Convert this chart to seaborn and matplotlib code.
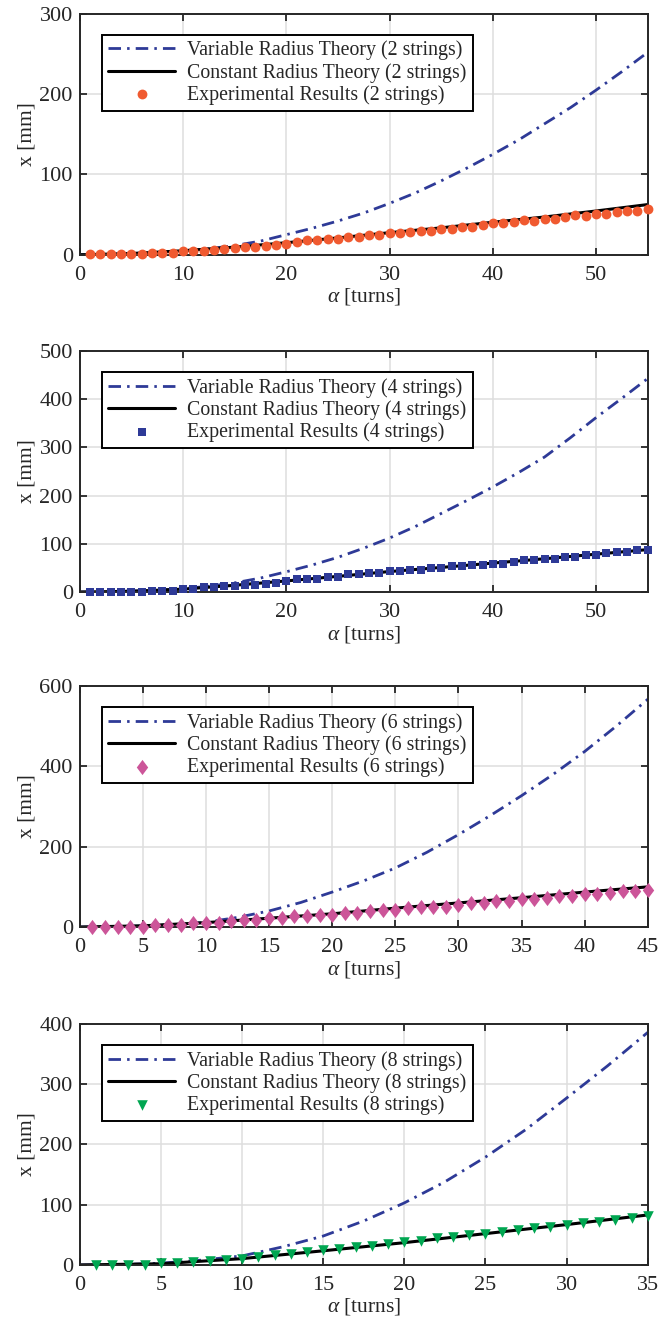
import numpy as np
import pandas as pd
import seaborn as sns
from matplotlib import pyplot as plt

# --- data (x in turns, values in mm) ---

# 2 strings
exp2_turns = list(range(1, 56))
exp2_x = [0.5, 0.5, 0.5, 0.5, 0.5, 0.5, 2.8, 2.8, 2.8, 4.6,
          4.6, 4.6, 6.2, 7.1, 8.7, 9.1, 10, 10.8, 12, 13.5,
          15.8, 17.8, 17.8, 19.9, 19.9, 22, 22, 24, 24, 26.6,
          26.6, 28.6, 29.9, 29.9, 32.4, 32.4, 34.5, 34.5, 37, 39,
          39, 41, 43, 42.5, 45, 45, 47, 49, 48.5, 51,
          51, 53, 55, 55, 57]
var2_turns = [0, 2.5, 5, 7.5, 10, 12.5, 15, 17.5, 20, 22.5, 25, 27.5,
              30, 32.5, 35, 37.5, 40, 42.5, 45, 47.5, 50, 52.5, 55]
var2_x = [0, 0.3, 1.5, 3, 5, 7.5, 11.5, 17, 25, 33, 42, 52,
          64, 77, 92, 108, 125, 143, 163, 183, 205, 228, 252]
const2_turns = [0, 5, 10, 15, 20, 25, 30, 35, 40, 45, 50, 55]
const2_x = [0, 1.5, 5, 9.5, 15, 21, 27.5, 33.5, 40.5, 47, 54.5, 62.5]

# 4 strings
exp4_turns = list(range(1, 56))
exp4_x = [1, 1, 1, 1, 1, 1, 2.5, 2.5, 2.5, 6,
          6, 10, 10, 13.5, 13.5, 15.5, 15.5, 16, 19.5, 22.5,
          26.8, 28, 28, 32, 32, 36.6, 36.6, 38.7, 38.7, 42.9,
          42.9, 46, 46, 49, 49, 53, 53, 56.6, 56.6, 59,
          59, 63, 66, 67, 69, 69, 73, 73, 77, 77,
          81, 84, 84, 88, 88]
var4_turns = [0, 2.5, 5, 7.5, 10, 12.5, 15, 17.5, 20, 22.5, 25, 27.5,
              30, 32.5, 35, 37.5, 40, 42.5, 45, 47.5, 50, 52.5, 55]
var4_x = [0, 0.5, 2, 4, 7, 12, 19, 29, 42, 56, 72, 91,
          112, 136, 163, 190, 218, 248, 280, 320, 362, 402, 443]
const4_turns = [0, 5, 10, 15, 20, 25, 30, 35, 40, 45, 50, 55]
const4_x = [0, 1.5, 6, 14, 23, 32.5, 42.5, 51, 60, 69, 78.5, 88]

# 6 strings
exp6_turns = list(range(1, 46))
exp6_x = [1, 1, 1, 1, 1, 4.5, 4.5, 4.5, 9, 9,
          9, 14, 17.5, 17.5, 22, 23, 26.5, 26.5, 30.5, 30.5,
          34.8, 34.8, 39, 43, 43, 46.5, 49.5, 51, 51, 55.6,
          60, 60, 64.5, 64.5, 69, 69, 73, 77, 77, 81,
          81, 85, 90, 90, 92]
var6_turns = [0, 2.5, 5, 7.5, 10, 12.5, 15, 17.5, 20, 22.5,
              25, 27.5, 30, 32.5, 35, 37.5, 40, 42.5, 45]
var6_x = [0, 0.5, 3, 6, 12, 24, 40, 61, 87, 115,
          147, 186, 230, 277, 327, 380, 437, 500, 567]
const6_turns = [0, 5, 10, 15, 20, 25, 30, 35, 40, 45]
const6_x = [0, 3, 11, 22, 33, 47, 60, 73, 87, 100]

# 8 strings
exp8_turns = list(range(1, 36))
exp8_x = [0.5, 0.5, 0.5, 0.5, 2.5, 2.5, 5, 7, 7.5, 10.5,
          13, 16, 18, 21, 24, 26.5, 29, 32, 35, 38,
          40.5, 44, 46, 49, 52, 55, 57.5, 60.5, 63.5, 66.5,
          69, 72, 75, 78, 81]
var8_turns = [0, 2.5, 5, 7.5, 10, 12.5, 15, 17.5, 20, 22.5,
              25, 27.5, 30, 32.5, 35]
var8_x = [0, 0.5, 3, 8, 15, 30, 48, 73, 103, 138,
          179, 225, 277, 330, 386]
const8_turns = [0, 5, 10, 15, 20, 25, 30, 35]
const8_x = [0, 2, 10.5, 23.5, 37, 52, 67, 83]

strings = [2, 4, 6, 8]
x_max = [55, 55, 45, 35]
y_max = [300, 500, 600, 400]
x_step = [10, 10, 5, 5]
y_step = [100, 100, 200, 100]
exp_colors = ['#F05A30', '#2E3A97', '#CC5599', '#00A651']
# matlab style diamond is a bit taller than wide
diamond = [(0, 1), (0.75, 0), (0, -1), (-0.75, 0), (0, 1)]
exp_markers = ['o', 's', diamond, 'v']
exp_sizes = [50, 40, 120, 58]

# --- style ---
sns.set_style('ticks')
plt.rcParams['font.family'] = ['Liberation Serif', 'DejaVu Serif']
plt.rcParams['mathtext.fontset'] = 'custom'
plt.rcParams['mathtext.rm'] = 'Liberation Serif'
plt.rcParams['mathtext.it'] = 'Liberation Serif:italic'
plt.rcParams['axes.edgecolor'] = '#262626'
plt.rcParams['xtick.color'] = '#262626'
plt.rcParams['ytick.color'] = '#262626'
plt.rcParams['text.color'] = '#262626'
plt.rcParams['axes.labelcolor'] = '#262626'

line_blue = '#2E3A97'
dashdot = (0, (4.5, 2.2, 0.9, 2.2))

fig = plt.figure(figsize=(6.59, 13.2), dpi=100)
bottoms = [0.807, 0.5515, 0.2977, 0.0417]

panels = [
    (exp2_turns, exp2_x, var2_turns, var2_x, const2_turns, const2_x),
    (exp4_turns, exp4_x, var4_turns, var4_x, const4_turns, const4_x),
    (exp6_turns, exp6_x, var6_turns, var6_x, const6_turns, const6_x),
    (exp8_turns, exp8_x, var8_turns, var8_x, const8_turns, const8_x),
]

for i, (et, ex, vt, vx, ct, cx) in enumerate(panels):
    ax = fig.add_axes([0.121, bottoms[i], 0.862, 0.1826])
    n = strings[i]
    var_df = pd.DataFrame({'turns': vt, 'x': vx})
    const_df = pd.DataFrame({'turns': ct, 'x': cx})
    exp_df = pd.DataFrame({'turns': et, 'x': ex})

    sns.lineplot(data=var_df, x='turns', y='x', ax=ax, color=line_blue,
                 linewidth=2, linestyle=dashdot,
                 label=f'Variable Radius Theory ({n} strings)')
    sns.lineplot(data=const_df, x='turns', y='x', ax=ax, color='black',
                 linewidth=2.2, label=f'Constant Radius Theory ({n} strings)')
    sns.scatterplot(data=exp_df, x='turns', y='x', ax=ax, color=exp_colors[i],
                    marker=exp_markers[i], s=exp_sizes[i], linewidth=0,
                    zorder=3, clip_on=False,
                    label=f'Experimental Results ({n} strings)')

    ax.set_xlim(0, x_max[i])
    ax.set_ylim(0, y_max[i])
    ax.set_xticks(np.arange(0, x_max[i] + 0.1, x_step[i]))
    ax.set_yticks(np.arange(0, y_max[i] + 0.1, y_step[i]))
    ax.grid(True, color='#dedede', linewidth=1.1)
    ax.set_axisbelow(True)
    ax.tick_params(direction='in', top=True, right=True, length=5, width=1.3,
                   labelsize=16)
    ax.tick_params(axis='x', pad=8)
    ax.tick_params(axis='y', pad=5)
    for sp in ax.spines.values():
        sp.set_linewidth(1.4)
    ax.set_xlabel(r'$\alpha$ [turns]', fontsize=15.5, labelpad=1)
    ax.set_ylabel('x [mm]', fontsize=15.5, labelpad=2)

    leg = ax.legend(loc='upper left', bbox_to_anchor=(0.039, 0.913),
                    borderaxespad=0, fontsize=14.3, frameon=True,
                    fancybox=False, edgecolor='black', framealpha=1,
                    handlelength=3.4, labelspacing=0.12, borderpad=0.3,
                    scatterpoints=1, handletextpad=0.6)
    leg.get_frame().set_linewidth(1.4)

fig.savefig('out.png', dpi=100)
